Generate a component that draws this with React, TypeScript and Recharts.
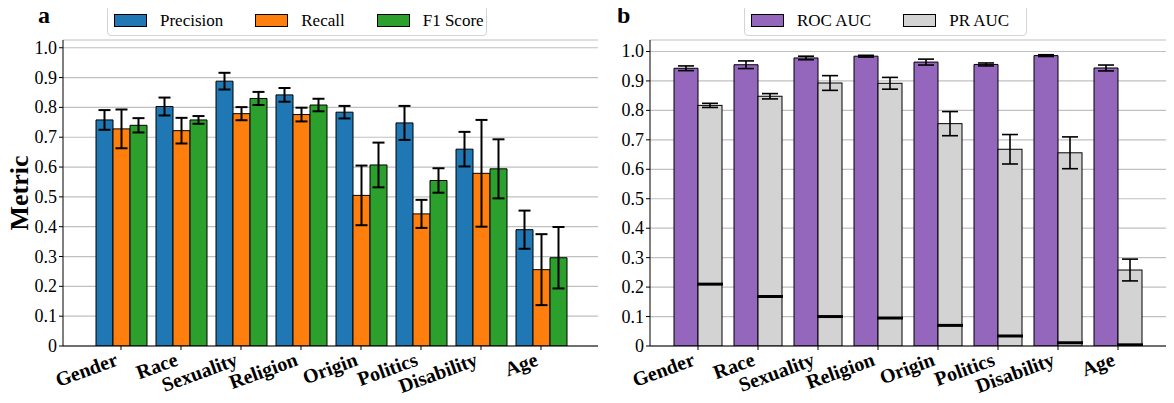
import { BarChart, Bar, XAxis, YAxis, CartesianGrid, ErrorBar } from 'recharts';

const SERIF = '"Liberation Serif", "DejaVu Serif", serif';

const categories = ['Gender', 'Race', 'Sexuality', 'Religion', 'Origin', 'Politics', 'Disability', 'Age'];

// panel a
const precision = [0.758, 0.803, 0.888, 0.842, 0.784, 0.748, 0.66, 0.39];
const precisionErr = [0.033, 0.03, 0.028, 0.023, 0.021, 0.057, 0.058, 0.064];
const recall = [0.728, 0.722, 0.779, 0.776, 0.505, 0.443, 0.579, 0.256];
const recallErr = [0.065, 0.043, 0.022, 0.023, 0.1, 0.047, 0.179, 0.119];
const f1 = [0.74, 0.758, 0.83, 0.808, 0.607, 0.555, 0.594, 0.296];
const f1Err = [0.024, 0.013, 0.022, 0.021, 0.075, 0.041, 0.099, 0.103];

// panel b
const rocAuc = [0.943, 0.955, 0.978, 0.984, 0.964, 0.956, 0.986, 0.944];
const rocErr = [0.008, 0.013, 0.006, 0.003, 0.01, 0.005, 0.003, 0.01];
const prAuc = [0.817, 0.848, 0.893, 0.892, 0.755, 0.668, 0.656, 0.258];
const prErr = [0.007, 0.009, 0.025, 0.02, 0.041, 0.05, 0.054, 0.037];
const prBaseline = [0.21, 0.168, 0.1, 0.095, 0.07, 0.034, 0.011, 0.004];

const yTicks = [0, 0.1, 0.2, 0.3, 0.4, 0.5, 0.6, 0.7, 0.8, 0.9, 1.0];

const dataA = categories.map((name, i) => ({
  name,
  precision: precision[i],
  precisionErr: precisionErr[i],
  recall: recall[i],
  recallErr: recallErr[i],
  f1: f1[i],
  f1Err: f1Err[i],
}));

const dataB = categories.map((name, i) => ({
  name,
  roc: rocAuc[i],
  rocErr: rocErr[i],
  pr: prAuc[i],
  prErr: prErr[i],
  baseline: prBaseline[i],
}));

const fmt = (v: number) => (v === 0 ? '0' : v.toFixed(1));

const CatTick = ({ x, y, payload }: any) => {
  const tx = x - 2;
  const ty = y + 13;
  return (
    <text
      x={tx}
      y={ty}
      textAnchor="end"
      transform={`rotate(-20, ${tx}, ${ty})`}
      style={{ fontFamily: SERIF, fontWeight: 'bold', fontSize: 20 }}
      fill="#000"
    >
      {payload.value}
    </text>
  );
};

const ValTick = ({ x, y, payload }: any) => (
  <text x={x} y={y + 6} textAnchor="end" fill="#000" style={{ fontFamily: SERIF, fontSize: 18 }}>
    {fmt(payload.value)}
  </text>
);

// PR bar plus the chance-level marker drawn inside it
const PrShape = (props: any) => {
  const { x, y, width, height, payload, fill } = props;
  const ly = y + height - height * (payload.baseline / payload.pr);
  return (
    <g>
      <rect x={x} y={y} width={width} height={height} fill={fill} stroke="#000" strokeWidth={1} />
      <line x1={x - 1} x2={x + width + 1} y1={ly} y2={ly} stroke="#000" strokeWidth={3} />
    </g>
  );
};

const Legend = ({ items, left, width }: { items: { label: string; color: string }[]; left: number; width: number }) => (
  <div
    style={{
      position: 'absolute',
      left,
      top: 5,
      width,
      height: 31,
      boxSizing: 'border-box',
      border: '1px solid #d4d4d4',
      borderRadius: 4,
      display: 'flex',
      alignItems: 'center',
      paddingLeft: 6,
      fontSize: 17,
      fontFamily: SERIF,
      whiteSpace: 'nowrap',
    }}
  >
    {items.map((it) => (
      <div key={it.label} style={{ display: 'flex', alignItems: 'center', marginRight: 32, flexShrink: 0 }}>
        <div style={{ width: 31, height: 11, background: it.color, border: '1px solid #000', marginRight: 13 }} />
        <span style={{ fontFamily: SERIF }}>{it.label}</span>
      </div>
    ))}
  </div>
);

export default function App() {
  return (
    <div
      style={{
        position: 'relative',
        width: 1174,
        height: 403,
        margin: -8,
        overflow: 'hidden',
        background: '#fff',
        fontFamily: SERIF,
      }}
    >
      <div style={{ position: 'absolute', left: 38, top: 2, fontSize: 24, fontWeight: 'bold' }}>a</div>
      <div style={{ position: 'absolute', left: 617, top: 2, fontSize: 24, fontWeight: 'bold' }}>b</div>
      <div
        style={{
          position: 'absolute',
          left: 20,
          top: 193,
          fontSize: 26,
          fontWeight: 'bold',
          transform: 'translate(-50%, -50%) rotate(-90deg)',
          whiteSpace: 'nowrap',
        }}
      >
        Metric
      </div>

      <Legend
        left={107}
        width={380}
        items={[
          { label: 'Precision', color: '#1f77b4' },
          { label: 'Recall', color: '#ff7f0e' },
          { label: 'F1 Score', color: '#2ca02c' },
        ]}
      />
      <Legend
        left={744}
        width={283}
        items={[
          { label: 'ROC AUC', color: '#9467bd' },
          { label: 'PR AUC', color: '#d3d3d3' },
        ]}
      />

      <div style={{ position: 'absolute', left: 0, top: 0 }}>
        <BarChart width={600} height={403} data={dataA} margin={{ top: 40, right: 2, bottom: 7, left: 0 }} barGap={0}>
          <CartesianGrid vertical={false} stroke="#c0c0c0" strokeWidth={1.2} />
          <XAxis
            dataKey="name"
            height={50}
            padding={{ left: 28, right: 27 }}
            tick={<CatTick />}
            tickSize={4}
            tickLine={{ stroke: '#000' }}
            axisLine={{ stroke: '#000' }}
            interval={0}
          />
          <XAxis xAxisId="top" dataKey="name" orientation="top" height={0} tick={false} tickLine={false} axisLine={{ stroke: '#000' }} />
          <YAxis
            domain={[0, 1.026]}
            ticks={yTicks}
            width={63}
            tickSize={4}
            tick={<ValTick />}
            tickLine={{ stroke: '#000' }}
            axisLine={{ stroke: '#000' }}
            allowDataOverflow
          />
          <YAxis yAxisId="right" orientation="right" domain={[0, 1.026]} width={0} tick={false} tickLine={false} axisLine={{ stroke: '#000' }} />
          <Bar dataKey="precision" fill="#1f77b4" stroke="#000" strokeWidth={1} barSize={17} isAnimationActive={false}>
            <ErrorBar dataKey="precisionErr" width={6} strokeWidth={2} stroke="#000" />
          </Bar>
          <Bar dataKey="recall" fill="#ff7f0e" stroke="#000" strokeWidth={1} barSize={17} isAnimationActive={false}>
            <ErrorBar dataKey="recallErr" width={6} strokeWidth={2} stroke="#000" />
          </Bar>
          <Bar dataKey="f1" fill="#2ca02c" stroke="#000" strokeWidth={1} barSize={17} isAnimationActive={false}>
            <ErrorBar dataKey="f1Err" width={6} strokeWidth={2} stroke="#000" />
          </Bar>
        </BarChart>
      </div>

      <div style={{ position: 'absolute', left: 600, top: 0 }}>
        <BarChart width={580} height={403} data={dataB} margin={{ top: 40, right: 0, bottom: 7, left: 0 }} barGap={0}>
          <CartesianGrid vertical={false} stroke="#c0c0c0" strokeWidth={1.2} />
          <XAxis
            dataKey="name"
            height={50}
            padding={{ left: 18, right: 32 }}
            tick={<CatTick />}
            tickSize={4}
            tickLine={{ stroke: '#000' }}
            axisLine={{ stroke: '#000' }}
            interval={0}
          />
          <XAxis xAxisId="top" dataKey="name" orientation="top" height={0} tick={false} tickLine={false} axisLine={{ stroke: '#000' }} />
          <YAxis
            domain={[0, 1.039]}
            ticks={yTicks}
            width={50}
            tickSize={4}
            tick={<ValTick />}
            tickLine={{ stroke: '#000' }}
            axisLine={{ stroke: '#000' }}
            allowDataOverflow
          />
          <Bar dataKey="roc" fill="#9467bd" stroke="#000" strokeWidth={1} barSize={24} isAnimationActive={false}>
            <ErrorBar dataKey="rocErr" width={8} strokeWidth={1.6} stroke="#000" />
          </Bar>
          <Bar dataKey="pr" fill="#d3d3d3" barSize={24} shape={<PrShape />} isAnimationActive={false}>
            <ErrorBar dataKey="prErr" width={8} strokeWidth={1.6} stroke="#000" />
          </Bar>
        </BarChart>
      </div>
    </div>
  );
}
